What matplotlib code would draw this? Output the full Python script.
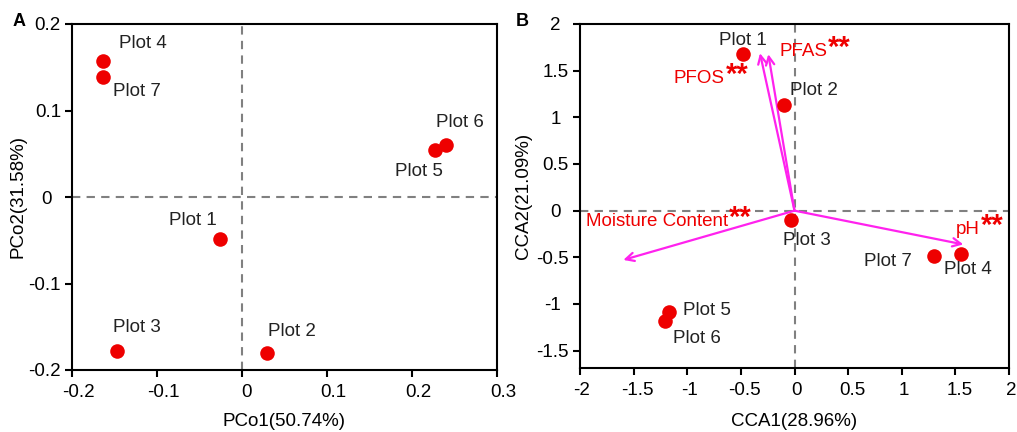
import matplotlib
matplotlib.use("Agg")
import matplotlib.pyplot as plt
import matplotlib.transforms as mtransforms

plt.rcParams['font.family'] = ['Liberation Sans', 'DejaVu Sans']

# ---- Panel A: PCoA ----
pcoa_labels = ["Plot 1", "Plot 2", "Plot 3", "Plot 4", "Plot 5", "Plot 6", "Plot 7"]
pcoa_x = [-0.026, 0.029, -0.147, -0.164, 0.227, 0.240, -0.164]
pcoa_y = [-0.048, -0.180, -0.178, 0.157, 0.054, 0.060, 0.139]
pcoa_xticks = [-0.2, -0.1, 0, 0.1, 0.2, 0.3]
pcoa_xticklabels = ["-0.2", "-0.1", "0", "0.1", "0.2", "0.3"]
pcoa_yticks = [-0.2, -0.1, 0, 0.1, 0.2]
pcoa_yticklabels = ["-0.2", "-0.1", "0", "0.1", "0.2"]

# ---- Panel B: CCA ----
cca_labels = ["Plot 1", "Plot 2", "Plot 3", "Plot 4", "Plot 5", "Plot 6", "Plot 7"]
cca_x = [-0.483, -0.10, -0.033, 1.55, -1.17, -1.205, 1.30]
cca_y = [1.676, 1.13, -0.096, -0.464, -1.082, -1.179, -0.489]
env_names = ["PFAS", "PFOS", "Moisture Content", "pH"]
env_x = [-0.244, -0.322, -1.596, 1.574]
env_y = [1.676, 1.687, -0.528, -0.362]
cca_xticks = [-2, -1.5, -1, -0.5, 0, 0.5, 1, 1.5, 2]
cca_xticklabels = ["-2", "-1.5", "-1", "-0.5", "0", "0.5", "1", "1.5", "2"]
cca_yticks = [-1.5, -1, -0.5, 0, 0.5, 1, 1.5, 2]
cca_yticklabels = ["-1.5", "-1", "-0.5", "0", "0.5", "1", "1.5", "2"]

FS = 13.5
RED = "#ee0000"
MAG = "#ff22ee"
GRAY = "#808080"

fig = plt.figure(figsize=(10.17, 4.32), dpi=100)
axA = fig.add_axes([72/1017, 62/432, 425/1017, 346/432])
axB = fig.add_axes([580/1017, 64/432, 429/1017, 344/432])

def style(ax):
    for s in ax.spines.values():
        s.set_linewidth(1.5)
        s.set_color("black")
    ax.tick_params(direction="out", length=5, width=1.5, labelsize=FS,
                   colors="black", top=False, right=False)
    ax.tick_params(axis="y", pad=3)
    ax.tick_params(axis="x", pad=5)

def shift_labels(ax, axis, dx_int, dx_other=0):
    ticks = ax.yaxis.get_major_ticks() if axis == "y" else ax.xaxis.get_major_ticks()
    for tk in ticks:
        lbl = tk.label1
        dx = dx_int if "." not in lbl.get_text() else dx_other
        if dx:
            lbl.set_transform(lbl.get_transform() +
                              mtransforms.ScaledTranslation(dx / 100, 0, fig.dpi_scale_trans))

# Panel A
axA.axhline(0, color=GRAY, lw=1.5, ls=(0, (4, 3)), zorder=1)
axA.axvline(0, color=GRAY, lw=1.5, ls=(0, (4, 3)), zorder=1)
axA.scatter(pcoa_x, pcoa_y, s=110, color=RED, zorder=3, linewidths=0)
offA = {"Plot 4": (40.7, 18), "Plot 7": (34.7, -15), "Plot 6": (13.7, 23),
        "Plot 5": (-15.7, -21.3), "Plot 1": (-27.3, 17.7), "Plot 3": (20.3, 23),
        "Plot 2": (25.3, 21)}
for lab, x, y in zip(pcoa_labels, pcoa_x, pcoa_y):
    axA.annotate(lab, (x, y), xytext=offA[lab], textcoords="offset pixels",
                 ha="center", va="center", fontsize=FS, color="#222222")
axA.set_xlim(-0.2, 0.3)
axA.set_ylim(-0.2, 0.2)
axA.set_xticks(pcoa_xticks)
axA.set_xticklabels(pcoa_xticklabels)
axA.set_yticks(pcoa_yticks)
axA.set_yticklabels(pcoa_yticklabels)
axA.set_xlabel("PCo1(50.74%)", fontsize=FS, labelpad=9)
axA.set_ylabel("PCo2(31.58%)", fontsize=FS, labelpad=1)
style(axA)
shift_labels(axA, "y", -9)
shift_labels(axA, "x", 4, 6)

# Panel B
axB.axhline(0, color=GRAY, lw=1.5, ls=(0, (4, 3)), zorder=1)
axB.axvline(0, color=GRAY, lw=1.5, ls=(0, (4, 3)), zorder=1)
axB.scatter(cca_x, cca_y, s=110, color=RED, zorder=3, linewidths=0)
offB = {"Plot 1": (0.6, 13.6), "Plot 2": (30.3, 14.6), "Plot 3": (15.7, -21),
        "Plot 7": (-45.7, -5.4), "Plot 4": (7.6, -15.3), "Plot 5": (37.7, 1),
        "Plot 6": (32, -17.6)}
for lab, x, y in zip(cca_labels, cca_x, cca_y):
    axB.annotate(lab, (x, y), xytext=offB[lab], textcoords="offset pixels",
                 ha="center", va="center", fontsize=FS, color="#222222", zorder=4)
for name, x, y in zip(env_names, env_x, env_y):
    axB.annotate("", xy=(x, y), xytext=(0, 0),
                 arrowprops=dict(arrowstyle="->,head_length=0.6,head_width=0.3",
                                 color=MAG, lw=1.6, shrinkA=0, shrinkB=0), zorder=2)
envoff = {"PFAS": ((11, 2.6), "left"), "PFOS": ((-35, -25), "right"),
          "Moisture Content": ((-37.3, 38.3), "left"), "pH": ((-7.3, 15), "left")}
for name, x, y in zip(env_names, env_x, env_y):
    off, ha = envoff[name]
    t = axB.annotate(name, (x, y), xytext=off, textcoords="offset pixels",
                     ha=ha, va="center", fontsize=FS, color=RED, zorder=5)
    axB.annotate("**", xy=(1, 0.72), xycoords=t, xytext=(1, 0),
                 textcoords="offset pixels", ha="left", va="center",
                 fontsize=21, fontweight="bold", color=RED, zorder=5)
axB.set_xlim(-2, 2)
axB.set_ylim(-1.686, 2)
axB.set_xticks(cca_xticks)
axB.set_xticklabels(cca_xticklabels)
axB.set_yticks(cca_yticks)
axB.set_yticklabels(cca_yticklabels)
axB.set_xlabel("CCA1(28.96%)", fontsize=FS, labelpad=10)
axB.set_ylabel("CCA2(21.09%)", fontsize=FS, labelpad=3)
style(axB)
shift_labels(axB, "y", -8)
shift_labels(axB, "x", 2, 4)

fig.text(19/1017, 1 - 22/432, "A", fontsize=13, fontweight="bold", ha="center", va="center")
fig.text(522/1017, 1 - 21/432, "B", fontsize=13, fontweight="bold", ha="center", va="center")

fig.savefig("out.png", dpi=100)
